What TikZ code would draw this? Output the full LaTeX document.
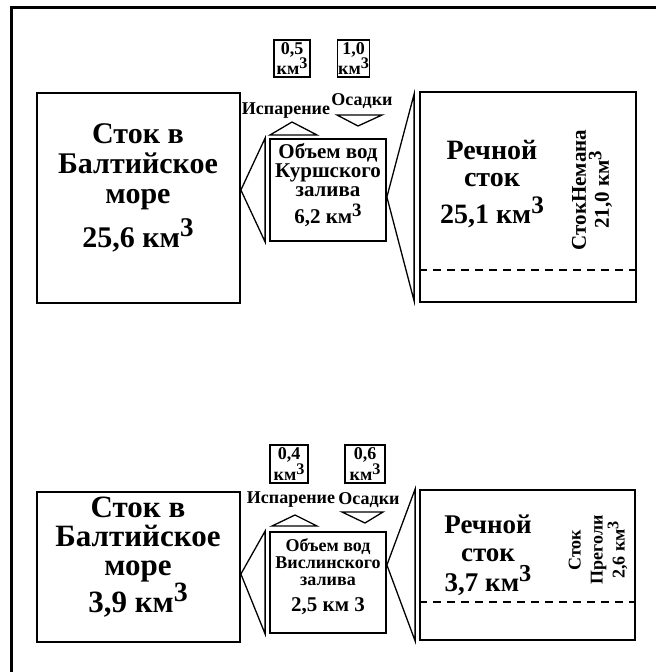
\documentclass[tikz,border=0pt]{standalone}
\usepackage{fontspec}
\usepackage{graphicx}
\setmainfont{Liberation Serif}
\newcommand\kub{\raisebox{0.35em}{\scalebox{0.9}{3}}}
\tikzset{
  bx/.style={draw, line width=1.8pt, inner sep=0pt},
  bigtxt/.style={font=\fontsize{30}{30}\selectfont\bfseries, align=center, inner sep=0pt},
  midtxt/.style={font=\fontsize{21}{19}\selectfont\bfseries, align=center, inner sep=0pt},
  labtxt/.style={font=\fontsize{18}{18}\selectfont\bfseries, inner sep=0pt},
  smalltxt/.style={font=\fontsize{18}{15}\selectfont\bfseries, align=center},
  rottxt/.style={rotate=90, align=center, inner sep=0pt},
  wedge/.style={line width=1.3pt, line join=miter},
  tri/.style={line width=1.3pt, line join=miter},
  dashln/.style={line width=1.5pt, dash pattern=on 8pt off 6pt}
}
\begin{document}
\begin{tikzpicture}[x=1pt,y=-1pt]
\useasboundingbox (0,0) rectangle (656,672);
% frame
\draw[line width=3pt] (11.5,672) -- (11.5,7.5) -- (656,7.5);

% ===== top section =====
\node[bx, minimum width=203pt, minimum height=210pt] (lb1) at (138.5,198) {};
\node[bx, minimum width=116pt, minimum height=102pt] (mb1) at (328,190) {};
\node[bx, minimum width=216pt, minimum height=210pt] (rb1) at (528,197) {};

\node[bigtxt] (lt1) at (138,188) {Сток в\\Балтийское\\море\\[8pt]25,6 км\kub};
\node[midtxt] (mt1) at (328,185) {Объем вод\\Куршского\\залива\\[6pt]6,2 км\kub};
\node[bigtxt, font=\fontsize{28}{27}\selectfont\bfseries] (rt1) at (492,184) {Речной\\сток\\[10pt]25,1 км\kub};
\node[rottxt, font=\fontsize{21}{23}\selectfont\bfseries] (rr1) at (592,190) {СтокНемана\\21,0 км\kub};

\node[bx, smalltxt, line width=1.5pt, minimum width=36pt, minimum height=37pt, inner sep=0pt] (ev1) at (292,58.5) {0,5\\км\kub};
\node[bx, smalltxt, line width=1.5pt, minimum width=32pt, minimum height=37pt, inner sep=0pt] (pr1) at (353.5,58.5) {1,0\\км\kub};
\node[labtxt] (le1) at (286,111) {Испарение};
\node[labtxt] (lp1) at (362,101) {Осадки};
\draw[tri] (270,135) -- (292,122) -- (317,135) -- cycle;
\draw[tri] (337,115) -- (382,115) -- (358,126) -- cycle;

\draw[wedge] (lb1.east |- mb1.west) -- ([xshift=-4pt]mb1.north west) -- ([xshift=-4pt]mb1.south west) -- cycle;
\draw[wedge] (mb1.east |- rb1.west) -- ([xshift=-5pt,yshift=-3pt]rb1.north west) -- ([xshift=-5pt,yshift=2pt]rb1.south west) -- cycle;
\draw[dashln] ([yshift=33pt]rb1.south west) -- ([yshift=33pt]rb1.south east);

% ===== bottom section =====
\node[bx, minimum width=203pt, minimum height=150pt] (lb2) at (138.5,567) {};
\node[bx, minimum width=116pt, minimum height=101pt] (mb2) at (328,582.5) {};
\node[bx, minimum width=215pt, minimum height=150pt] (rb2) at (527.5,565) {};

\node[bigtxt, font=\fontsize{31}{29}\selectfont\bfseries] (lt2) at (138,557) {Сток в\\Балтийское\\море\\3,9 км\kub};
\node[midtxt, font=\fontsize{18}{17}\selectfont\bfseries] (mt2) at (328,577) {Объем вод\\Вислинского\\залива\\[9pt]{\fontsize{21}{21}\selectfont 2,5 км 3}};
\node[bigtxt, font=\fontsize{27}{28}\selectfont\bfseries] (rt2) at (488,555) {Речной\\сток\\[2pt]3,7 км\kub};
\node[rottxt, font=\fontsize{18}{22}\selectfont\bfseries] (rr2) at (598,550) {Сток\\Преголи\\2,6 км\kub};

\node[bx, smalltxt, line width=1.5pt, minimum width=38pt, minimum height=38pt, inner sep=0pt] (ev2) at (289,464) {0,4\\км\kub};
\node[bx, smalltxt, line width=1.5pt, minimum width=40pt, minimum height=38pt, inner sep=0pt] (pr2) at (365,464) {0,6\\км\kub};
\node[labtxt] (le2) at (291,500) {Испарение};
\node[labtxt] (lp2) at (369,500) {Осадки};
\draw[tri] (272,526) -- (295,515) -- (317,526) -- cycle;
\draw[tri] (342,512) -- (383,512) -- (365,523) -- cycle;

\draw[wedge] ([yshift=-7pt]lb2.east) -- ([xshift=-4pt]mb2.north west) -- ([xshift=-4pt]mb2.south west) -- cycle;
\draw[wedge] (mb2.east |- rb2.west) -- ([xshift=-4pt]rb2.north west) -- ([xshift=-4pt]rb2.south west) -- cycle;
\draw[dashln] ([yshift=39pt]rb2.south west) -- ([yshift=39pt]rb2.south east);
\end{tikzpicture}
\end{document}
